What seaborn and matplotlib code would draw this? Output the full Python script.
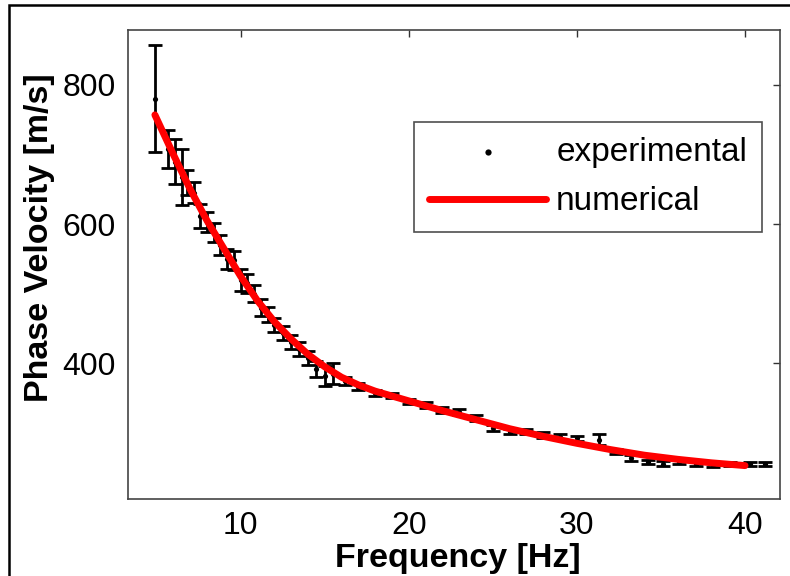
import matplotlib
matplotlib.use("Agg")
import matplotlib.pyplot as plt
import seaborn as sns
from matplotlib.patches import Rectangle

# Experimental dispersion points
freq_exp = [4.9, 5.7, 6.1, 6.5, 6.8, 7.2, 7.6, 8.0, 8.4, 8.8, 9.2, 9.6, 10.0, 10.4,
            10.8, 11.2, 11.6, 12.0, 12.5, 13.0, 13.5, 14.0, 14.5, 15.0, 15.5, 16.2,
            17.0, 18.0, 19.0, 20.0, 21.0, 22.0, 23.0, 24.0, 25.0, 26.0, 27.0, 28.0,
            29.0, 30.0, 31.3, 32.3, 33.2, 34.2, 35.1, 36.1, 37.1, 38.1, 39.1, 40.3, 41.2]
vel_exp = [780, 708, 690, 668, 660, 645, 612, 603, 588, 570, 550, 548, 520, 515,
           500, 480, 470, 455, 444, 430, 420, 408, 392, 382, 385, 375,
           366, 357, 354, 345, 340, 333, 330, 321, 307, 302, 302, 297,
           294, 292, 290, 273, 264, 258, 256, 258, 256, 254, 255, 255, 255]
err_exp = [77, 27, 32, 40, 18, 15, 17, 15, 14, 15, 14, 14, 16, 14,
           12, 12, 11, 10, 10, 10, 10, 10, 12, 14, 15, 6,
           5, 4, 4, 4, 4, 4, 4, 4, 4, 4, 4, 4,
           4, 4, 8, 4, 4, 3, 3, 3, 3, 3, 3, 3, 3]

# Numerical dispersion curve
freq_num = [4.9, 6, 7, 8, 9, 10, 11, 12, 13, 14, 15, 16, 17, 18, 20, 22, 24, 26,
            28, 30, 32, 34, 36, 38, 40]
vel_num = [757, 700, 650, 605, 565, 525, 490, 460, 435, 413, 395, 380, 369, 360,
           346, 332, 319, 306, 295, 285, 276, 268, 262, 257, 253]

sns.set_theme(style="white")
plt.rcParams['font.family'] = ['Liberation Sans', 'DejaVu Sans']
plt.rcParams['text.color'] = 'black'
plt.rcParams['axes.labelcolor'] = 'black'

fig, ax = plt.subplots(figsize=(7.9, 5.76), dpi=100)
fig.subplots_adjust(left=128/790, right=780/790, bottom=1-499/576, top=1-30/576)

ax.errorbar(freq_exp, vel_exp, yerr=err_exp, fmt='none', ecolor='black',
            elinewidth=2.0, capsize=4.7, capthick=2.0, zorder=2)
sns.scatterplot(x=freq_exp, y=vel_exp, color='black', s=14, linewidth=0,
                label='experimental', ax=ax, zorder=3)
sns.lineplot(x=freq_num, y=vel_num, color='red', linewidth=5, label='numerical',
             ax=ax, zorder=4)

ax.set_xlim(3.3, 42.08)
ax.set_ylim(205, 879)
ax.set_xticks([10, 20, 30, 40])
ax.set_yticks([400, 600, 800])
ax.tick_params(direction='in', length=5, width=1, color='#333333', labelsize=23,
               top=True, right=True, pad=9, labelcolor='black')
for s in ax.spines.values():
    s.set_color('#444444')
    s.set_linewidth(1.2)

ax.set_xlabel('Frequency [Hz]', fontsize=24.5, fontweight='bold')
ax.set_ylabel('Phase Velocity [m/s]', fontsize=24.5, fontweight='bold')
ax.xaxis.set_label_coords(0.506, -0.094)
ax.yaxis.set_label_coords(-0.112, 0.5576)

leg = ax.legend(loc='upper right', bbox_to_anchor=(0.9724, 0.8038), borderaxespad=0,
                fontsize=24, frameon=True, fancybox=False, handlelength=3.5,
                handletextpad=0.3, borderpad=0.45, labelspacing=0.55, markerscale=1.2)
leg.get_frame().set_edgecolor('#222222')
leg.get_frame().set_linewidth(1.2)

# outer frame of the original figure
fig.patches.append(Rectangle((9/790, -0.1), 1.2, 1.1 - 5/576, transform=fig.transFigure,
                             fill=False, edgecolor='black', linewidth=1.8, zorder=10))

fig.savefig('out.png', dpi=100)
